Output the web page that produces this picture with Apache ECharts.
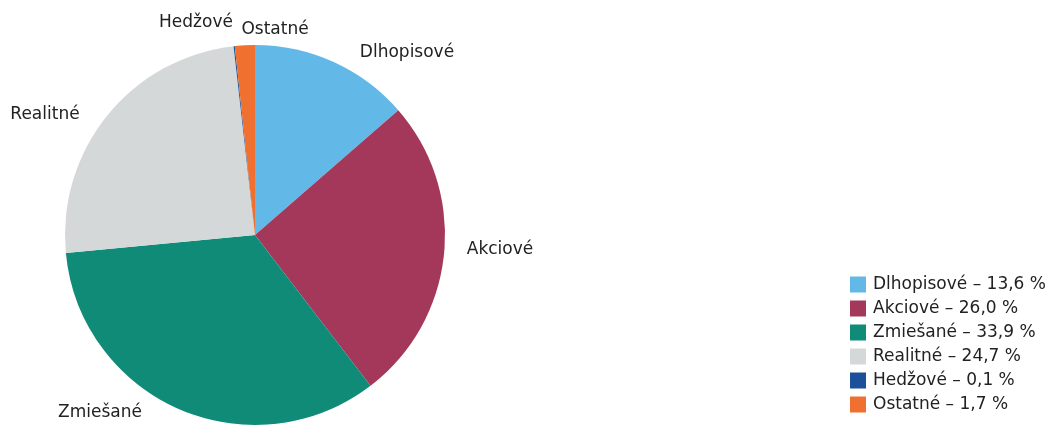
<!DOCTYPE html>
<html>
<head>
<meta charset="utf-8">
<script src="https://cdn.jsdelivr.net/npm/echarts@6/dist/echarts.min.js"></script>
<style>
  html, body { margin: 0; padding: 0; background: #fff; }
  #chart { width: 1051px; height: 426px; }
</style>
</head>
<body>
<div id="chart"></div>
<script>
// typy fondov a ich podiely (%)
const categories = ['Dlhopisové', 'Akciové', 'Zmiešané', 'Realitné', 'Hedžové', 'Ostatné'];
const shares = [13.6, 26.0, 33.9, 24.7, 0.1, 1.7];
const colors = ['#62b9e8', '#a3385a', '#0f8b77', '#d5d8d9', '#1b5199', '#f07030'];

// ručne umiestnené popisky (stred textu)
const labelSpots = [[407, 53], [500, 250], [100, 413], [45, 115], [196, 23], [275, 30]];

const fmt = (v) => v.toFixed(1).replace('.', ',');
const font = '"DejaVu Sans", sans-serif';

const chart = echarts.init(document.getElementById('chart'));

chart.setOption({
  animation: false,
  color: colors,
  legend: {
    orient: 'vertical',
    left: 845,
    top: 271,
    height: 160,
    icon: 'rect',
    itemWidth: 16,
    itemHeight: 16,
    itemGap: 7,
    selectedMode: false,
    textStyle: { fontFamily: font, fontSize: 17, color: '#222', lineHeight: 16, padding: [0, 0, 0, 2] },
    formatter: (name) => {
      const i = categories.indexOf(name);
      return `${name} – ${fmt(shares[i])} %`;
    },
  },
  series: [
    {
      type: 'pie',
      center: [255, 235],
      radius: 190,
      startAngle: 90,
      clockwise: true,
      label: {
        show: true,
        position: 'outside',
        fontFamily: font,
        fontSize: 17,
        color: '#222',
        overflow: 'none',
        formatter: '{b}',
      },
      labelLine: { show: false },
      labelLayout: (p) => ({
        x: labelSpots[p.dataIndex][0],
        y: labelSpots[p.dataIndex][1],
        align: 'center',
        verticalAlign: 'middle',
      }),
      emphasis: { disabled: true },
      data: categories.map((name, i) => ({ name, value: shares[i] })),
    },
  ],
});
</script>
</body>
</html>
